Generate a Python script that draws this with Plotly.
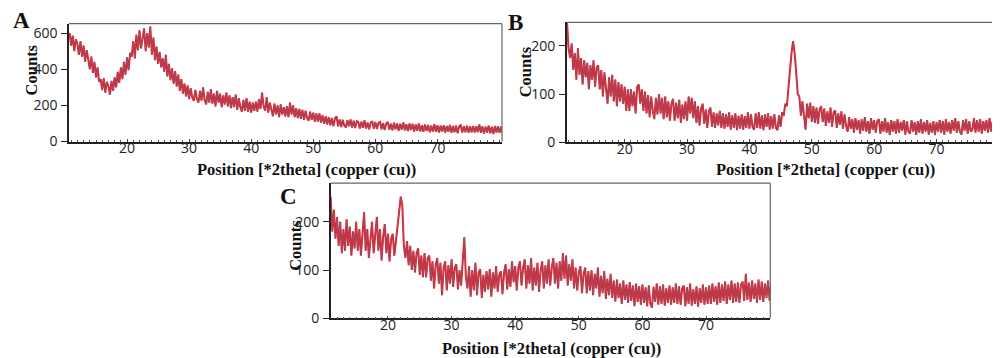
import plotly.graph_objects as go

# Scan grid (degrees 2theta): start and step of the recorded scans
x_start = 10.75
x_step = 0.25

# Panel A counts
counts_a = [
    600, 530, 585, 500, 565, 540, 480, 555, 470, 530, 440, 505, 455, 400, 470, 380, 440, 355, 410, 330,
    345, 285, 350, 270, 330, 305, 260, 335, 280, 355, 300, 385, 325, 410, 345, 440, 370, 465, 395, 490,
    470, 555, 460, 590, 505, 615, 515, 570, 625, 500, 600, 520, 635, 480, 575, 450, 525, 430, 495, 410,
    460, 385, 480, 360, 430, 340, 405, 320, 390, 305, 370, 280, 345, 265, 320, 250, 310, 235, 295, 245,
    225, 285, 235, 215, 280, 225, 300, 230, 205, 275, 215, 290, 210, 265, 195, 280, 215, 265, 190, 255,
    205, 270, 195, 255, 185, 245, 190, 260, 175, 240, 190, 165, 230, 170, 240, 165, 220, 160, 215, 170,
    220, 165, 235, 180, 270, 195, 170, 245, 160, 215, 170, 140, 210, 150, 200, 135, 205, 150, 190, 140,
    195, 135, 215, 150, 200, 135, 185, 130, 180, 125, 175, 120, 170, 130, 115, 165, 120, 160, 110, 155,
    110, 155, 105, 145, 98, 140, 95, 135, 90, 130, 85, 128, 140, 84, 122, 80, 120, 88, 78, 118,
    85, 122, 78, 115, 75, 112, 108, 72, 110, 76, 118, 72, 106, 68, 104, 112, 70, 108, 70, 102,
    108, 68, 102, 64, 100, 108, 66, 98, 62, 104, 68, 100, 60, 98, 66, 106, 62, 96, 58, 100,
    64, 98, 56, 94, 60, 100, 56, 90, 54, 94, 58, 92, 52, 88, 56, 96, 54, 90, 50, 88,
    56, 90, 50, 86, 54, 92, 48, 86, 52, 88, 46, 84, 90, 50, 84, 52, 88, 48, 84, 52,
    86, 50, 84, 52, 94, 48, 84, 44, 82, 50, 88, 46, 82, 42, 86, 50, 84, 48, 82, 46,
]

# Panel B counts
counts_b = [
    250, 195, 175, 205, 150, 185, 130, 195, 140, 175, 120, 170, 135, 165, 110, 160, 130, 170, 115, 155,
    160, 110, 150, 95, 145, 110, 80, 135, 95, 140, 85, 130, 75, 125, 85, 120, 80, 115, 65, 110,
    65, 110, 75, 105, 60, 115, 120, 80, 110, 65, 105, 60, 98, 52, 95, 65, 48, 92, 58, 100,
    60, 92, 48, 95, 52, 85, 45, 80, 90, 45, 82, 50, 88, 40, 78, 48, 85, 45, 95, 60,
    92, 50, 85, 40, 75, 35, 70, 80, 38, 68, 30, 65, 72, 32, 62, 30, 60, 35, 65, 30,
    60, 28, 58, 32, 62, 26, 56, 30, 60, 25, 55, 28, 58, 26, 54, 30, 62, 28, 58, 32,
    26, 60, 30, 62, 28, 56, 25, 58, 32, 60, 26, 54, 28, 58, 30, 25, 56, 32, 62, 55,
    80, 75, 115, 150, 185, 210, 185, 145, 100, 95, 55, 85, 60, 26, 80, 50, 82, 42, 75, 40,
    72, 38, 68, 75, 42, 70, 34, 64, 40, 72, 32, 62, 66, 30, 60, 36, 64, 28, 58, 34,
    22, 52, 28, 48, 20, 50, 26, 46, 18, 48, 24, 52, 22, 44, 18, 50, 26, 46, 20, 44,
    48, 18, 44, 22, 50, 20, 42, 15, 46, 22, 44, 18, 48, 20, 42, 24, 46, 16, 44, 22,
    18, 46, 22, 42, 15, 44, 20, 48, 18, 42, 22, 46, 16, 40, 20, 44, 15, 42, 22, 46,
    20, 44, 16, 48, 22, 42, 18, 46, 24, 50, 20, 44, 22, 16, 46, 24, 48, 18, 44, 22,
    26, 50, 20, 46, 22, 48, 18, 44, 24, 46, 20, 50, 22, 44, 16, 48, 22, 42, 20, 44,
]

# Panel C counts
counts_c = [
    255, 250, 180, 225, 165, 210, 150, 200, 135, 185, 140, 205, 150, 190, 130, 180, 145, 200, 140, 185,
    130, 175, 220, 140, 185, 125, 170, 200, 135, 180, 210, 140, 185, 120, 170, 195, 135, 175, 118, 165,
    175, 130, 165, 190, 220, 252, 235, 150, 125, 160, 110, 150, 100, 140, 95, 135, 145, 90, 130, 85,
    135, 85, 125, 130, 78, 118, 62, 110, 125, 72, 115, 48, 105, 118, 58, 110, 72, 122, 65, 105,
    112, 60, 100, 68, 120, 168, 85, 62, 108, 45, 100, 58, 115, 48, 95, 102, 42, 90, 55, 98,
    60, 102, 45, 95, 62, 108, 55, 90, 98, 50, 95, 112, 60, 102, 65, 118, 75, 108, 58, 105,
    118, 68, 105, 122, 62, 110, 72, 125, 58, 105, 68, 115, 55, 100, 118, 62, 110, 72, 122, 68,
    105, 125, 72, 115, 62, 118, 78, 135, 82, 130, 68, 112, 78, 122, 62, 105, 58, 95, 108, 52,
    92, 105, 52, 98, 58, 100, 48, 92, 62, 105, 45, 88, 52, 98, 40, 82, 48, 92, 42, 78,
    35, 80, 42, 72, 30, 78, 38, 70, 32, 75, 36, 68, 25, 72, 34, 66, 28, 70, 32, 64,
    25, 68, 30, 22, 65, 34, 72, 28, 66, 30, 70, 26, 62, 32, 68, 28, 64, 32, 72, 30,
    66, 28, 62, 68, 25, 64, 30, 72, 26, 60, 30, 66, 24, 62, 32, 70, 28, 64, 30, 68,
    30, 72, 34, 66, 28, 74, 32, 70, 36, 76, 30, 70, 38, 78, 32, 72, 34, 74, 32, 70,
    76, 36, 92, 38, 74, 34, 78, 40, 72, 32, 80, 38, 76, 34, 72, 42, 78, 36, 74, 40,
]

panel_labels = ["A", "B", "C"]
x_title = "Position [*2theta] (copper (cu))"
y_title = "Counts"
x_ticks = [20, 30, 40, 50, 60, 70]
y_ticks_a = [0, 200, 400, 600]
y_ticks_bc = [0, 100, 200]

W, H = 1000, 358
def px(x):
    return x / W
def py(y):
    return 1 - y / H

fig = go.Figure()

MAUVE = "#8a5470"
RED = "#ff1a1a"

def positions(n):
    return [x_start + x_step * i for i in range(n)]

series = [(counts_a, "x", "y"), (counts_b, "x2", "y2"), (counts_c, "x3", "y3")]
for vals, xa, ya in series:
    xs = positions(len(vals))
    fig.add_trace(go.Scatter(x=xs, y=vals, xaxis=xa, yaxis=ya, mode="lines",
                             line=dict(color=RED, width=2.0), hoverinfo="skip", showlegend=False))
    fig.add_trace(go.Scatter(x=xs, y=vals, xaxis=xa, yaxis=ya, mode="lines",
                             line=dict(color=MAUVE, width=0.9), showlegend=False))

tick_font = dict(family="Open Sans", size=14, color="#222")

def xaxis(domain, rng, anchor):
    return dict(domain=domain, range=rng, anchor=anchor, tickvals=x_ticks,
                showline=True, linecolor="#222", linewidth=1.5, mirror=False,
                ticks="inside", ticklen=3, tickcolor="#444", ticklabelstandoff=-7,
                minor=dict(dtick=1, ticks="inside", ticklen=2, tickcolor="#555"),
                showgrid=False, zeroline=False, tickfont=tick_font)

def yaxis(domain, rng, anchor, tv):
    return dict(domain=domain, range=rng, anchor=anchor, tickvals=tv,
                showline=True, linecolor="#222", linewidth=1.5, mirror=False,
                ticks="outside", ticklen=6, tickcolor="#222", ticklabelstandoff=1,
                showgrid=False, zeroline=False, tickfont=tick_font)

dom_a = ([px(61), px(494)], [py(137), py(16)])
dom_b = ([px(558.7), px(994)], [py(137.7), py(14.7)])
dom_c = ([px(322.7), px(762.3)], [py(318.3), py(179.7)])

fig.update_layout(
    width=W, height=H, margin=dict(l=0, r=0, t=0, b=0),
    paper_bgcolor="white", plot_bgcolor="white",
    xaxis=xaxis(dom_a[0], [10.65, 80.4], "y"),
    yaxis=yaxis(dom_a[1], [0, 652], "x", y_ticks_a),
    xaxis2=xaxis(dom_b[0], [10.7, 80.5], "y2"),
    yaxis2=yaxis(dom_b[1], [0, 249], "x2", y_ticks_bc),
    xaxis3=xaxis(dom_c[0], [11.0, 80.1], "y3"),
    yaxis3=yaxis(dom_c[1], [0, 280], "x3", y_ticks_bc),
)

# top / right frame lines
for (xd, yd) in [dom_a, dom_b, dom_c]:
    fig.add_shape(type="line", xref="paper", yref="paper", x0=xd[0], x1=xd[1], y0=yd[1], y1=yd[1],
                  line=dict(color="#666", width=1.2))
    fig.add_shape(type="line", xref="paper", yref="paper", x0=xd[1], x1=xd[1], y0=yd[0], y1=yd[1],
                  line=dict(color="#666", width=1.2))

title_font = dict(family="Liberation Serif", size=16.5, color="#111", weight="bold")
letter_font = dict(family="Liberation Serif", size=23, color="#111", weight="bold")

for lab, (lx, ly) in zip(panel_labels, [(13, 13), (507, 15), (280, 193)]):
    fig.add_annotation(text=lab, x=px(lx), y=py(ly), xref="paper", yref="paper",
                       showarrow=False, font=letter_font, xanchor="center", yanchor="middle")

for (tx, ty) in [(298, 166), (817, 166), (543, 349)]:
    fig.add_annotation(text=x_title, x=px(tx), y=py(ty), xref="paper", yref="paper",
                       showarrow=False, font=title_font, xanchor="center", yanchor="middle")

for (cx, cy) in [(23, 64), (517, 66), (288, 244)]:
    fig.add_annotation(text=y_title, x=px(cx), y=py(cy), xref="paper", yref="paper",
                       showarrow=False, font=title_font, textangle=-90,
                       xanchor="center", yanchor="middle")

fig.write_html("out.html", config={"displayModeBar": False})
